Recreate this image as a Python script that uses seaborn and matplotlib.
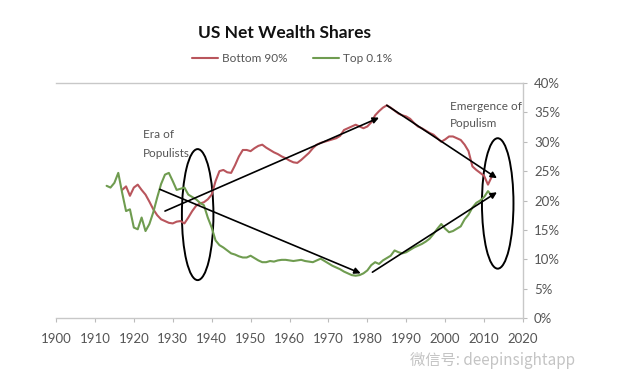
import numpy as np
import pandas as pd
import seaborn as sns
import matplotlib.pyplot as plt
from matplotlib.patches import Ellipse

# Top 0.1% share of US net wealth (%)
top_years = list(range(1913, 2013))
top_share = [22.5, 22.2, 23.0, 24.7, 21.3, 18.2, 18.5, 15.4, 15.1, 17.1,
             14.8, 16.0, 18.0, 20.5, 22.8, 24.4, 24.7, 23.3, 21.8, 22.0,
             22.2, 21.0, 20.6, 20.2, 19.6, 19.2, 17.1, 15.4, 13.2, 12.4,
             12.0, 11.5, 11.0, 10.8, 10.5, 10.3, 10.3, 10.6, 10.2, 9.8,
             9.5, 9.5, 9.7, 9.6, 9.8, 9.9, 9.9, 9.8, 9.7, 9.8,
             9.9, 9.7, 9.6, 9.5, 9.8, 10.1, 9.7, 9.3, 8.9, 8.6,
             8.3, 7.9, 7.6, 7.3, 7.2, 7.3, 7.6, 8.1, 9.0, 9.5,
             9.2, 9.8, 10.2, 10.6, 11.5, 11.2, 11.0, 11.2, 11.6, 12.0,
             12.3, 12.6, 13.0, 13.5, 14.3, 15.2, 16.0, 15.2, 14.6, 14.8,
             15.2, 15.6, 16.8, 17.6, 18.8, 19.6, 20.0, 20.6, 21.6, 20.8]

# Bottom 90% share of US net wealth (%)
bottom_years = list(range(1917, 2013))
bottom_share = [21.8, 22.4, 20.8, 22.2, 22.7, 21.8, 21.0, 19.8, 18.5, 17.5,
                16.8, 16.5, 16.2, 16.1, 16.4, 16.5, 16.1, 17.1, 18.2, 19.1,
                19.5, 19.7, 20.2, 21.0, 23.3, 25.0, 25.2, 24.8, 24.7, 26.0,
                27.5, 28.6, 28.6, 28.4, 28.9, 29.3, 29.5, 29.0, 28.6, 28.2,
                27.9, 27.5, 27.2, 26.8, 26.5, 26.4, 26.9, 27.5, 28.1, 28.9,
                29.5, 29.8, 30.0, 30.2, 30.4, 30.6, 31.0, 32.0, 32.3, 32.6,
                32.9, 32.6, 32.3, 32.6, 33.3, 34.5, 35.2, 35.8, 36.2, 35.8,
                35.3, 34.8, 34.5, 34.3, 33.9, 33.2, 32.6, 32.3, 31.9, 31.5,
                31.2, 30.6, 30.0, 30.4, 30.9, 30.9, 30.6, 30.3, 29.5, 28.4,
                25.8, 25.2, 24.7, 24.2, 22.7, 24.1]

x_ticks = list(range(1900, 2021, 10))
y_ticks = list(range(0, 41, 5))

# trend arrows (start, end) and highlight ellipses (centre, width, height)
arrows = [((1928, 18.2), (1983, 34.1)),
          ((1926.7, 21.9), (1978.3, 7.6)),
          ((1985, 36.2), (2013.3, 23.8)),
          ((1981.3, 7.8), (2013.3, 21.4))]
ellipses = [((1936.4, 17.6), 8.1, 22.3),
            ((2013.5, 19.5), 8.1, 22.2)]

df = pd.concat([
    pd.DataFrame({'year': bottom_years, 'share': bottom_share, 'series': 'Bottom 90%'}),
    pd.DataFrame({'year': top_years, 'share': top_share, 'series': 'Top 0.1%'}),
])

sns.set_style('white')
plt.rcParams['font.family'] = ['Lato', 'DejaVu Sans']

fig = plt.figure(figsize=(6.4, 3.83), dpi=100)
ax = fig.add_axes([0.0875, 0.1697, 0.7297, 0.6136])

sns.lineplot(data=df, x='year', y='share', hue='series',
             palette={'Bottom 90%': '#b9555c', 'Top 0.1%': '#6f9c50'},
             linewidth=1.5, ax=ax, legend=False)

for (x0, y0), (x1, y1) in arrows:
    ax.annotate('', xy=(x1, y1), xytext=(x0, y0),
                arrowprops=dict(arrowstyle='-|>', color='black', lw=1.2,
                                mutation_scale=9, shrinkA=0, shrinkB=0))
for (cx, cy), w, h in ellipses:
    ax.add_patch(Ellipse((cx, cy), w, h, fill=False, edgecolor='black', lw=1.4))

ax.text(1922.3, 32.2, 'Era of\nPopulists', fontsize=8.5, color='#555555',
        va='top', linespacing=1.9)
ax.text(2001.3, 37.0, 'Emergence of\nPopulism', fontsize=8.5, color='#555555',
        va='top', linespacing=1.7)

ax.set_xlim(1900, 2020)
ax.set_ylim(0, 40)
ax.set_xticks(x_ticks)
ax.set_yticks(y_ticks)
ax.set_yticklabels([f'{v}%' for v in y_ticks])
ax.yaxis.tick_right()
ax.set_xlabel('')
ax.set_ylabel('')
ax.tick_params(axis='both', labelsize=9.5, labelcolor='#555555', length=3,
               color='#bbbbbb', direction='out')
ax.tick_params(axis='x', pad=8)
ax.tick_params(axis='y', pad=5)
ax.tick_params(bottom=True, right=True, left=False)
for side in ['top', 'right', 'bottom']:
    ax.spines[side].set_color('#c8c8c8')
    ax.spines[side].set_linewidth(1)
ax.spines['left'].set_visible(False)

fig.text(0.445, 0.913, 'US Net Wealth Shares', fontsize=12.5, fontweight='bold',
         ha='center', va='center', color='#111111')

handles = [plt.Line2D([], [], color='#b9555c', lw=1.5),
           plt.Line2D([], [], color='#6f9c50', lw=1.5)]
fig.legend(handles, ['Bottom 90%', 'Top 0.1%'], loc='center',
           bbox_to_anchor=(0.456, 0.846), ncol=2, frameon=False, fontsize=8.5,
           handlelength=2.2, handletextpad=0.3, columnspacing=2.2,
           labelcolor='#555555')

fig.text(0.64, 0.06, '微信号: deepinsightapp', fontsize=11, color='#c4c4c4',
         va='center', family=['Noto Sans CJK SC', 'DejaVu Sans'])

fig.savefig('out.png', dpi=100)
